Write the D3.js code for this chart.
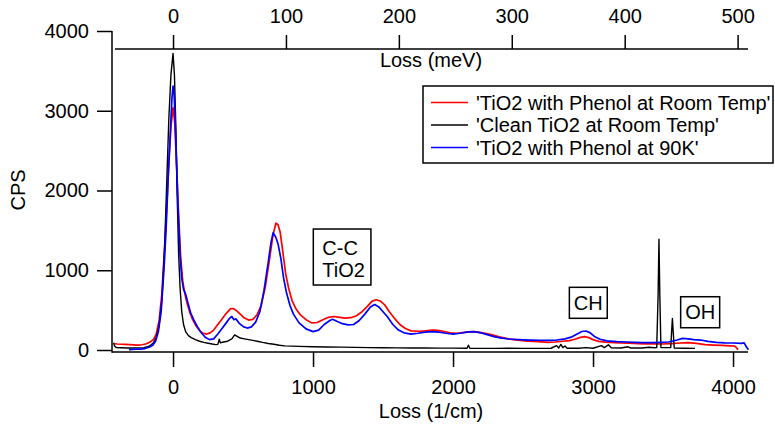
<!DOCTYPE html>
<html>
<head>
<meta charset="utf-8">
<script src="https://cdn.jsdelivr.net/npm/d3@7"></script>
<style>
  body { margin: 0; background: #fff; }
  svg { display: block; font-family: "Liberation Sans", Arial, sans-serif; }
  .axis text { font-size: 20px; fill: #000; }
  .axis line { stroke: #000; stroke-width: 1.5; }
</style>
</head>
<body>
<svg id="chart" width="775" height="425"></svg>
<script>
// HREELS loss spectra, TiO2 / phenol

var seriesNames = ["'TiO2 with Phenol at Room Temp'", "'Clean TiO2 at Room Temp'", "'TiO2 with Phenol at 90K'"];
var seriesColors = ["#ff0000", "#000000", "#0000ff"];

// [loss (1/cm), counts]
var phenolRoomTemp = [
  [-420, 80], [-400, 75], [-370, 72], [-340, 70], [-310, 68], [-280, 65], [-250, 62], [-220, 66],
  [-190, 78], [-165, 100], [-140, 130], [-120, 200], [-100, 360], [-80, 700], [-60, 1300], [-45, 1800],
  [-30, 2350], [-15, 2800], [0, 3040], [12, 2850], [22, 2450], [32, 2000], [42, 1600], [55, 1150],
  [70, 850], [85, 700], [100, 590], [120, 470], [140, 380], [165, 300], [190, 240], [215, 210],
  [240, 200], [265, 215], [290, 250], [320, 320], [350, 390], [380, 460], [410, 515], [430, 520],
  [455, 490], [480, 450], [510, 400], [540, 375], [570, 385], [600, 440], [630, 560], [660, 800],
  [690, 1150], [715, 1450], [735, 1590], [750, 1570], [765, 1480], [785, 1220], [805, 950], [825, 780],
  [850, 620], [880, 510], [910, 440], [950, 380], [990, 340], [1030, 345], [1070, 380], [1110, 410],
  [1150, 420], [1190, 410], [1230, 400], [1270, 405], [1310, 430], [1350, 480], [1390, 550], [1420, 610],
  [1450, 630], [1480, 615], [1510, 570], [1545, 480], [1580, 400], [1620, 320], [1660, 270], [1700, 240],
  [1750, 235], [1800, 240], [1850, 250], [1890, 245], [1930, 235], [1980, 215], [2030, 210], [2080, 220],
  [2130, 230], [2180, 225], [2230, 210], [2280, 190], [2330, 165], [2380, 145], [2430, 130], [2480, 120],
  [2530, 112], [2580, 108], [2630, 103], [2680, 96], [2730, 100], [2780, 110], [2830, 118], [2870, 135],
  [2910, 158], [2940, 168], [2970, 155], [3000, 130], [3040, 108], [3090, 98], [3150, 92], [3200, 88],
  [3260, 85], [3320, 80], [3380, 78], [3440, 76], [3500, 75], [3560, 80], [3620, 88], [3680, 92],
  [3740, 82], [3800, 68], [3860, 62], [3920, 58], [3980, 52], [4010, 50], [4025, 30], [4035, 2]
];

var cleanRoomTemp = [
  [-425, 90], [-418, 50], [-405, 30], [-370, 28], [-330, 26], [-290, 25], [-250, 27], [-210, 30],
  [-180, 40], [-160, 60], [-140, 90], [-120, 160], [-100, 300], [-80, 620], [-60, 1300], [-45, 2100],
  [-30, 2900], [-15, 3450], [0, 3720], [10, 3450], [20, 2800], [30, 1900], [40, 1200], [50, 790],
  [62, 480], [75, 320], [90, 230], [110, 180], [130, 155], [160, 130], [190, 110], [220, 95],
  [250, 85], [280, 75], [305, 68], [320, 70], [330, 135], [338, 90], [360, 100], [390, 110],
  [420, 140], [440, 190], [455, 175], [480, 150], [510, 140], [540, 130], [570, 120], [600, 110],
  [640, 95], [680, 82], [720, 72], [760, 60], [800, 52], [850, 48], [900, 45], [1000, 40],
  [1100, 38], [1200, 36], [1300, 33], [1400, 30], [1500, 28], [1600, 27], [1700, 26], [1800, 25],
  [1900, 24], [2000, 23], [2100, 22], [2110, 60], [2120, 22], [2200, 21], [2300, 20], [2400, 22],
  [2500, 20], [2600, 20], [2700, 22], [2740, 55], [2755, 25], [2770, 70], [2785, 30], [2800, 50],
  [2815, 22], [2900, 22], [2950, 30], [3000, 22], [3060, 55], [3080, 30], [3110, 65], [3130, 28],
  [3200, 25], [3250, 40], [3270, 25], [3350, 25], [3400, 35], [3440, 28], [3455, 30], [3465, 700],
  [3471, 1390], [3477, 700], [3485, 30], [3555, 30], [3562, 250], [3567, 395], [3572, 250], [3580, 25],
  [3650, 22], [3729, 20]
];

var phenol90K = [
  [-315, 5], [-290, 8], [-260, 10], [-230, 12], [-200, 18], [-170, 35], [-145, 60], [-125, 110],
  [-105, 230], [-85, 480], [-65, 1000], [-50, 1500], [-35, 2150], [-20, 2700], [-8, 3150], [0, 3310],
  [8, 3200], [18, 2750], [28, 2200], [38, 1700], [50, 1200], [62, 900], [75, 760], [90, 700],
  [105, 600], [125, 470], [150, 370], [175, 290], [200, 220], [230, 160], [260, 130], [290, 140],
  [320, 200], [350, 270], [380, 340], [405, 400], [420, 420], [435, 380], [450, 390], [475, 330],
  [505, 290], [530, 275], [560, 290], [590, 350], [620, 480], [650, 750], [680, 1100], [700, 1350],
  [715, 1470], [725, 1440], [735, 1410], [750, 1330], [770, 1150], [790, 900], [810, 720], [835, 560],
  [860, 450], [900, 340], [950, 265], [1000, 230], [1040, 250], [1080, 320], [1120, 370], [1140, 385],
  [1170, 360], [1210, 330], [1250, 315], [1290, 320], [1330, 370], [1370, 450], [1410, 540], [1440, 570],
  [1470, 540], [1500, 480], [1530, 420], [1570, 320], [1610, 250], [1650, 215], [1700, 200], [1750, 210],
  [1800, 225], [1850, 230], [1900, 225], [1950, 210], [2000, 200], [2050, 210], [2100, 225], [2150, 230],
  [2200, 215], [2250, 190], [2300, 165], [2350, 148], [2400, 138], [2450, 132], [2500, 128], [2560, 125],
  [2620, 122], [2680, 120], [2740, 125], [2800, 140], [2850, 165], [2890, 205], [2920, 232], [2950, 238],
  [2980, 215], [3010, 170], [3050, 135], [3100, 115], [3170, 104], [3240, 100], [3300, 95], [3360, 92],
  [3420, 92], [3480, 95], [3540, 100], [3600, 125], [3640, 145], [3680, 140], [3720, 130], [3770, 125],
  [3820, 108], [3880, 95], [3940, 90], [4000, 88], [4060, 84], [4080, 90], [4095, 40], [4110, 2]
];

var cmTicks = [0, 1000, 2000, 3000, 4000];
var mevTicks = [0, 100, 200, 300, 400, 500];
var cpsTicks = [0, 1000, 2000, 3000, 4000];

// peak labels: text lines, box corner in data units (loss, counts)
var peakText = [["C-C", "TiO2"], ["CH"], ["OH"]];
var peakCorner = [[1002, 1517], [2831, 786], [3626, 668]];

var CM_PER_MEV = 8.0655;

///////////////////////////////////////////////////////////////////////////////
// scales and axes

var svg = d3.select("#chart");

var x = d3.scaleLinear().domain([-436, 4107]).range([112, 748]);
var xMev = d3.scaleLinear()
  .domain([-436 / CM_PER_MEV, 4107 / CM_PER_MEV])
  .range([112, 748]);
var y = d3.scaleLinear().domain([0, 4000]).range([350, 31]);

var fmt = d3.format("d");

var xAxisG = svg.append("g")
  .attr("class", "axis")
  .attr("transform", "translate(0,352)")
  .call(d3.axisBottom(x).tickValues(cmTicks).tickFormat(fmt)
    .tickSize(15).tickPadding(13).tickSizeOuter(0));
xAxisG.select(".domain").remove();
xAxisG.append("line").attr("x1", 112).attr("x2", 748);

var topAxisG = svg.append("g")
  .attr("class", "axis")
  .attr("transform", "translate(0,49)")
  .call(d3.axisTop(xMev).tickValues(mevTicks).tickFormat(fmt)
    .tickSize(14).tickPadding(12).tickSizeOuter(0));
topAxisG.select(".domain").remove();
topAxisG.append("line").attr("x1", 115).attr("x2", 748);

var yAxisG = svg.append("g")
  .attr("class", "axis")
  .attr("transform", "translate(112,0)")
  .call(d3.axisLeft(y).tickValues(cpsTicks).tickFormat(fmt)
    .tickSize(15).tickPadding(8).tickSizeOuter(0));
yAxisG.select(".domain").remove();
yAxisG.append("line").attr("y1", 31).attr("y2", 352.75);

svg.selectAll(".axis").attr("font-family", null).attr("font-size", null);

svg.append("text")
  .attr("x", 431).attr("y", 418)
  .attr("text-anchor", "middle")
  .style("font-size", "20px")
  .text("Loss (1/cm)");

svg.append("text")
  .attr("x", 431).attr("y", 67)
  .attr("text-anchor", "middle")
  .style("font-size", "20px")
  .text("Loss (meV)");

svg.append("text")
  .attr("transform", "translate(25,190) rotate(-90)")
  .attr("text-anchor", "middle")
  .style("font-size", "20px")
  .text("CPS");

///////////////////////////////////////////////////////////////////////////////
// spectra

var line = d3.line()
  .x(function (d) { return x(d[0]); })
  .y(function (d) { return y(d[1]); });

var allSeries = [phenolRoomTemp, cleanRoomTemp, phenol90K];

svg.append("g").selectAll("path")
  .data(allSeries)
  .enter().append("path")
  .attr("d", line)
  .attr("fill", "none")
  .attr("stroke", function (d, i) { return seriesColors[i]; })
  .attr("stroke-width", function (d, i) { return i === 1 ? 1.4 : 1.7; })
  .attr("stroke-linejoin", "round");

///////////////////////////////////////////////////////////////////////////////
// peak labels

peakText.forEach(function (lines, k) {
  var g = svg.append("g");
  var px = x(peakCorner[k][0]), py = y(peakCorner[k][1]);
  var multi = lines.length > 1;
  var t = g.append("text").style("font-size", "20px");
  lines.forEach(function (s, i) {
    t.append("tspan")
      .attr("x", px + (multi ? 9 : 4.5))
      .attr("y", py + (multi ? 26 : 22.5) + i * 22)
      .text(s);
  });
  var bb = t.node().getBBox();
  var padX = multi ? 7.5 : 4.5;
  g.insert("rect", "text")
    .attr("x", px).attr("y", py)
    .attr("width", bb.width + 2 * padX)
    .attr("height", multi ? 56 : 31)
    .attr("fill", "none")
    .attr("stroke", "#000")
    .attr("stroke-width", 1.5);
});

///////////////////////////////////////////////////////////////////////////////
// legend

var legend = svg.append("g");
legend.append("rect")
  .attr("x", 423).attr("y", 86)
  .attr("width", 350).attr("height", 77)
  .attr("fill", "#fff")
  .attr("stroke", "#000")
  .attr("stroke-width", 1.5);

seriesNames.forEach(function (name, i) {
  var ly = 102.5 + i * 22.5;
  legend.append("line")
    .attr("x1", 431).attr("x2", 468)
    .attr("y1", ly).attr("y2", ly)
    .attr("stroke", seriesColors[i])
    .attr("stroke-width", 1.5);
  legend.append("text")
    .attr("x", 476).attr("y", ly + 7)
    .style("font-size", "20px")
    .text(name);
});
</script>
</body>
</html>
